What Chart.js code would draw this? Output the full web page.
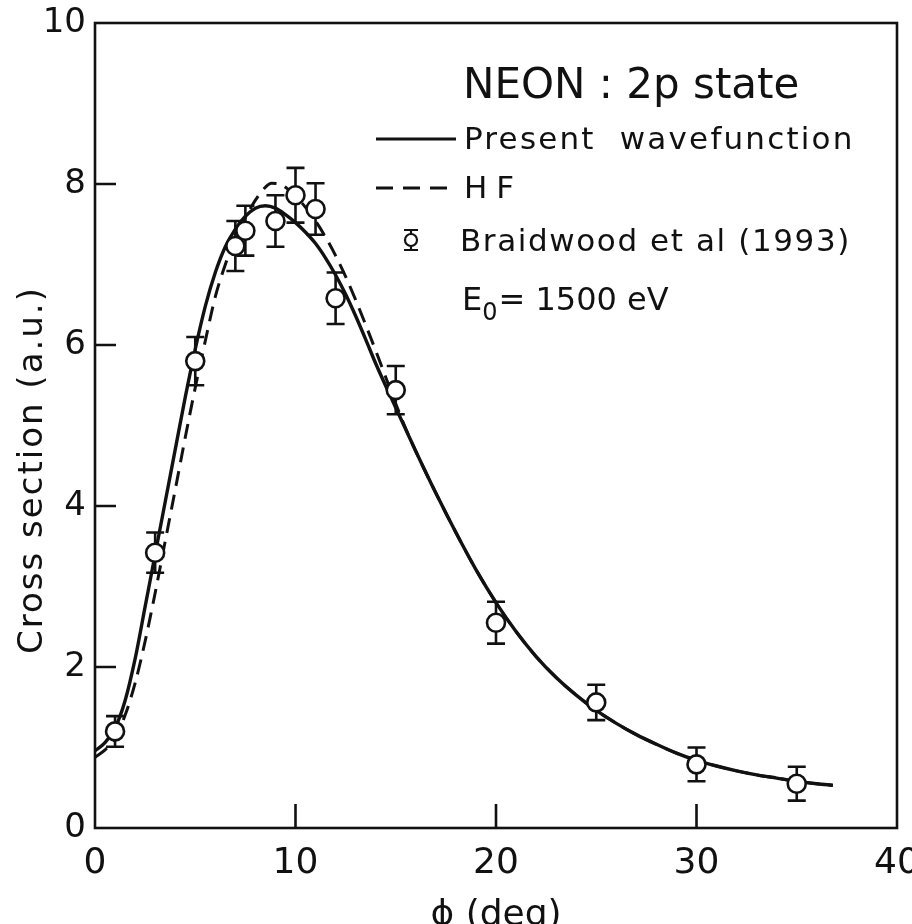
<!DOCTYPE html>
<html>
<head>
<meta charset="utf-8">
<script src="https://cdn.jsdelivr.net/npm/chart.js@4.4.0/dist/chart.umd.min.js"></script>
<style>
html,body{margin:0;padding:0;background:#fff;overflow:hidden;}
#wrap{width:912px;height:960px;}
</style>
</head>
<body>
<div id="wrap"><canvas id="c" width="912" height="960"></canvas></div>
<script>
// ---- data ----
const expAngles = [1, 3, 5, 7, 7.5, 9, 10, 11, 12, 15, 20, 25, 30, 35];
const expValues = [1.20, 3.42, 5.80, 7.23, 7.42, 7.54, 7.86, 7.69, 6.58, 5.44, 2.55, 1.56, 0.79, 0.55];
const expErrors = [0.19, 0.25, 0.30, 0.31, 0.31, 0.32, 0.34, 0.32, 0.32, 0.30, 0.26, 0.22, 0.21, 0.21];

const presentAngles = [0, 0.5, 1, 1.5, 2, 2.5, 3, 3.5, 4, 4.5, 5, 5.5, 6, 6.5, 7, 7.5, 8, 8.5, 9, 9.5, 10, 10.5, 11, 11.5, 12, 12.5, 13, 13.5, 14, 15, 16, 17, 18, 19, 20, 21, 22, 23, 24, 25, 26, 27, 28, 29, 30, 31, 32, 33, 34, 35, 36, 36.8];
const presentValues = [0.96, 1.06, 1.24, 1.58, 2.10, 2.75, 3.40, 4.05, 4.70, 5.35, 5.95, 6.48, 6.90, 7.22, 7.44, 7.60, 7.70, 7.73, 7.70, 7.62, 7.52, 7.40, 7.26, 7.08, 6.87, 6.63, 6.36, 6.07, 5.77, 5.22, 4.68, 4.16, 3.67, 3.21, 2.80, 2.44, 2.13, 1.87, 1.65, 1.46, 1.30, 1.16, 1.04, 0.93, 0.84, 0.77, 0.71, 0.66, 0.62, 0.58, 0.55, 0.53];

const hfAngles = [0, 0.5, 1, 1.5, 2, 2.5, 3, 3.5, 4, 4.5, 5, 5.5, 6, 6.5, 7, 7.5, 8, 8.5, 8.8, 9.2, 9.6, 10, 10.5, 11, 11.5, 12, 12.5, 13, 13.5, 14, 14.5, 15, 15.5, 16, 17, 18, 19, 20, 21, 22, 23, 24, 25, 26, 27, 28, 29, 30, 31, 32, 33, 34, 35, 36, 36.8];
const hfValues = [0.88, 0.97, 1.12, 1.40, 1.80, 2.32, 2.92, 3.56, 4.20, 4.85, 5.47, 6.05, 6.60, 7.00, 7.33, 7.58, 7.80, 7.96, 8.01, 8.00, 7.94, 7.85, 7.71, 7.54, 7.34, 7.11, 6.85, 6.56, 6.25, 5.93, 5.60, 5.27, 4.96, 4.68, 4.16, 3.67, 3.21, 2.80, 2.44, 2.13, 1.87, 1.65, 1.46, 1.30, 1.16, 1.04, 0.93, 0.84, 0.77, 0.71, 0.66, 0.62, 0.58, 0.55, 0.53];

const xTicks = [0, 10, 20, 30, 40];
const yTicks = [0, 2, 4, 6, 8, 10];
const xTitle = 'ϕ (deg)';
const yTitle = 'Cross section (a.u.)';
const plotTitle = 'NEON : 2p state';
const seriesNames = ['Present  wavefunction', 'HF', 'Braidwood et al (1993)'];
const energyLabel = ['E', '0', '= 1500 eV'];

// ---- chart ----
const FONT = "'DejaVu Sans', sans-serif";
const INK = '#111';

const toPts = (xs, ys) => xs.map((x, i) => ({ x: x, y: ys[i] }));

const errorBars = {
  id: 'errorBars',
  beforeDatasetDraw(chart, args) {
    if (args.index !== 0) return;
    const xs = chart.scales.x, ys = chart.scales.y, ctx = chart.ctx;
    ctx.save();
    ctx.strokeStyle = INK;
    ctx.lineWidth = 2.6;
    expAngles.forEach((a, i) => {
      const px = xs.getPixelForValue(a);
      const top = ys.getPixelForValue(expValues[i] + expErrors[i]);
      const bot = ys.getPixelForValue(expValues[i] - expErrors[i]);
      ctx.beginPath();
      ctx.moveTo(px, top); ctx.lineTo(px, bot);
      ctx.moveTo(px - 9, top); ctx.lineTo(px + 9, top);
      ctx.moveTo(px - 9, bot); ctx.lineTo(px + 9, bot);
      ctx.stroke();
    });
    ctx.restore();
  }
};

const frame = {
  id: 'frame',
  afterDraw(chart) {
    const { ctx, chartArea: a } = chart;
    const xs = chart.scales.x, ys = chart.scales.y;
    ctx.save();
    ctx.strokeStyle = INK;
    ctx.lineWidth = 2.6;
    ctx.strokeRect(a.left, a.top, a.right - a.left, a.bottom - a.top);
    ctx.beginPath();
    xTicks.slice(1, -1).forEach(v => {
      const p = xs.getPixelForValue(v);
      ctx.moveTo(p, a.bottom); ctx.lineTo(p, a.bottom - 24);
    });
    yTicks.slice(1, -1).forEach(v => {
      const p = ys.getPixelForValue(v);
      ctx.moveTo(a.left, p); ctx.lineTo(a.left + 21, p);
    });
    ctx.stroke();

    // y axis title
    ctx.fillStyle = INK;
    ctx.save();
    ctx.translate(33, 470);
    ctx.rotate(-Math.PI / 2);
    ctx.font = '34px ' + FONT;
    ctx.letterSpacing = '2px';
    ctx.textAlign = 'center';
    ctx.textBaseline = 'middle';
    ctx.fillText(yTitle, 0, 0);
    ctx.restore();

    // annotation block (title + legend + energy)
    ctx.textBaseline = 'alphabetic';
    ctx.textAlign = 'left';
    ctx.font = '42px ' + FONT;
    ctx.letterSpacing = '0px';
    ctx.fillText(plotTitle, 463, 98);

    ctx.font = '31px ' + FONT;
    ctx.letterSpacing = '2.2px';
    ctx.fillText(seriesNames[0], 464, 149);
    ctx.letterSpacing = '9px';
    ctx.fillText(seriesNames[1], 464, 198);
    ctx.letterSpacing = '1.6px';
    ctx.fillText(seriesNames[2], 460, 251);

    ctx.lineWidth = 3;
    ctx.beginPath();
    ctx.moveTo(376, 139); ctx.lineTo(456, 139);
    ctx.stroke();
    ctx.setLineDash([17, 10]);
    ctx.beginPath();
    ctx.moveTo(376, 188); ctx.lineTo(456, 188);
    ctx.stroke();
    ctx.setLineDash([]);

    // experimental symbol
    ctx.lineWidth = 2.2;
    ctx.beginPath();
    ctx.moveTo(404, 230); ctx.lineTo(418, 230);
    ctx.moveTo(404, 250); ctx.lineTo(418, 250);
    ctx.moveTo(411, 230); ctx.lineTo(411, 250);
    ctx.stroke();
    ctx.beginPath();
    ctx.arc(411, 240, 6, 0, Math.PI * 2);
    ctx.fillStyle = '#fff';
    ctx.fill();
    ctx.stroke();

    ctx.fillStyle = INK;
    ctx.font = '32px ' + FONT;
    ctx.letterSpacing = '0px';
    ctx.fillText(energyLabel[0], 462, 310);
    const wE = ctx.measureText(energyLabel[0]).width;
    ctx.font = '24px ' + FONT;
    ctx.fillText(energyLabel[1], 462 + wE, 320);
    const w0 = ctx.measureText(energyLabel[1]).width;
    ctx.font = '32px ' + FONT;
    ctx.fillText(energyLabel[2], 462 + wE + w0 + 1, 310);
    ctx.restore();
  }
};

new Chart(document.getElementById('c'), {
  type: 'scatter',
  data: {
    datasets: [
      {
        label: seriesNames[2],
        data: toPts(expAngles, expValues),
        order: 0,
        pointRadius: 9,
        pointBackgroundColor: '#fff',
        pointBorderColor: INK,
        pointBorderWidth: 2.6,
        showLine: false
      },
      {
        label: seriesNames[0],
        data: toPts(presentAngles, presentValues),
        order: 1,
        showLine: true,
        borderColor: INK,
        borderWidth: 3.4,
        pointRadius: 0,
        cubicInterpolationMode: 'monotone'
      },
      {
        label: seriesNames[1],
        data: toPts(hfAngles, hfValues),
        order: 2,
        showLine: true,
        borderColor: INK,
        borderWidth: 3,
        borderDash: [15, 9],
        pointRadius: 0,
        cubicInterpolationMode: 'monotone'
      }
    ]
  },
  options: {
    responsive: false,
    animation: false,
    events: [],
    layout: { padding: { left: 0, top: 23, right: 15, bottom: 0 } },
    plugins: { legend: { display: false }, tooltip: { enabled: false } },
    scales: {
      x: {
        type: 'linear', min: 0, max: 40,
        afterFit(s) { s.height = 960 - 828; s.paddingLeft = 0; s.paddingRight = 0; },
        afterBuildTicks(s) { s.ticks = xTicks.map(v => ({ value: v })); },
        grid: { display: false, drawTicks: false },
        border: { display: false },
        ticks: { color: INK, font: { family: FONT, size: 36 }, padding: 14, maxRotation: 0, autoSkip: false },
        title: { display: true, text: xTitle, color: INK, font: { family: FONT, size: 36 }, padding: { top: 6, bottom: 23 } }
      },
      y: {
        type: 'linear', min: 0, max: 10,
        afterFit(s) { s.width = 95; s.paddingTop = 0; s.paddingBottom = 0; },
        afterBuildTicks(s) { s.ticks = yTicks.map(v => ({ value: v })); },
        grid: { display: false, drawTicks: false },
        border: { display: false },
        ticks: { color: INK, font: { family: FONT, size: 34 }, padding: 9, autoSkip: false },
        title: { display: false }
      }
    }
  },
  plugins: [errorBars, frame]
});
</script>
</body>
</html>
